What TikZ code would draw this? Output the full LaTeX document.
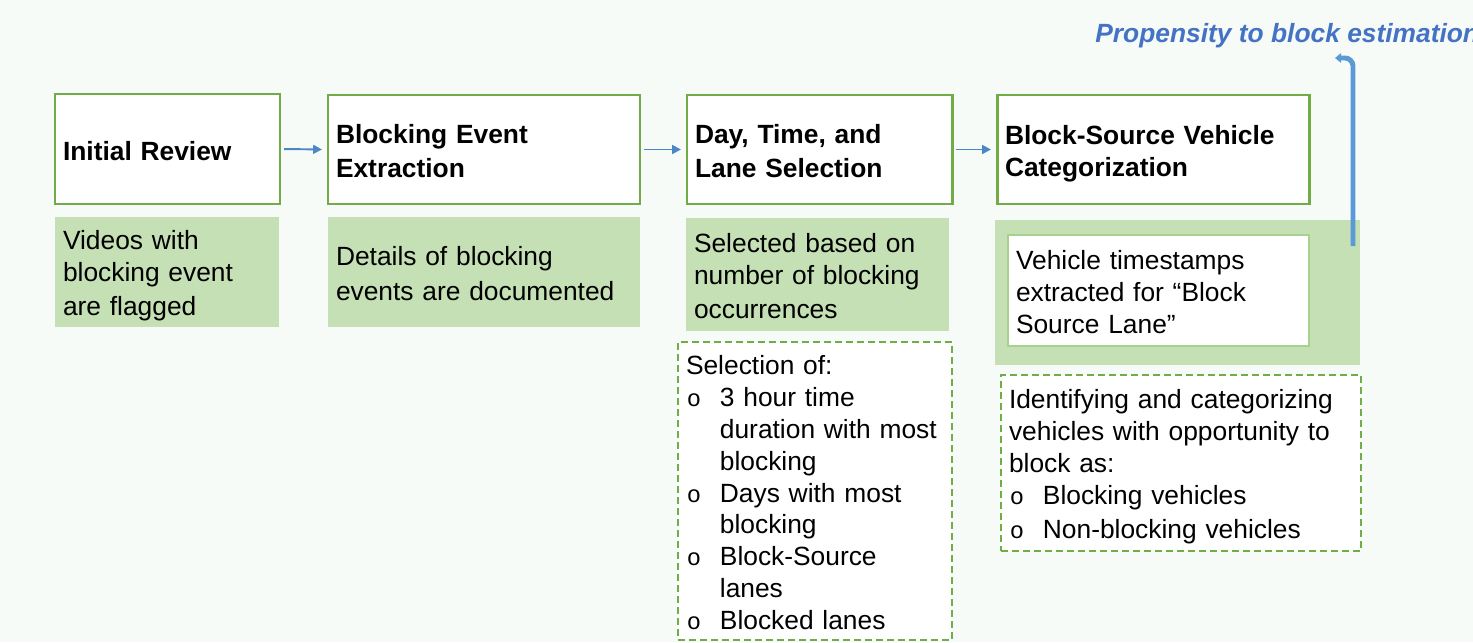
\documentclass[tikz,border=0pt]{standalone}
\usepackage{fontspec}
\setmainfont{Liberation Sans}
\newfontfamily\bulletfont{Liberation Mono}
\usetikzlibrary{arrows.meta}
\definecolor{pagebg}{HTML}{F7FBF7}
\definecolor{boxgreen}{HTML}{70AD47}
\definecolor{lightgreen}{HTML}{C5E0B4}
\definecolor{paleedge}{HTML}{A9D18E}
\definecolor{flowblue}{HTML}{4A86C8}
\definecolor{loopblue}{HTML}{5B9BD5}
\definecolor{labelblue}{HTML}{4472C4}
\newcommand{\lnstrut}{\rule[-2.8pt]{0pt}{18.15pt}}
\newcommand{\bul}[1]{\makebox[19.3pt][l]{\hspace{0.5pt}{\fontsize{13.5}{12}\bulletfont o}}#1}
\newcommand{\cont}[1]{\hspace*{19.3pt}#1}

\begin{document}
\begin{tikzpicture}[
  box/.style={font=\fontsize{15}{18.15}\selectfont, align=left, anchor=north west,
    inner xsep=0.16cm, inner ysep=0pt, outer sep=0pt,
    execute at begin node={\lnstrut}, execute at end node={\lnstrut}},
  stage/.style={box, draw=boxgreen, line width=1.7pt, fill=white,
    font=\fontsize{15}{18.15}\selectfont\bfseries},
  note/.style={box, fill=lightgreen},
  stampbox/.style={box, draw=paleedge, line width=0.8pt, fill=white},
  detail/.style={box, draw=boxgreen, line width=1.1pt, fill=white,
    dash pattern=on 0.14cm off 0.08cm},
  flow/.style={draw=flowblue, line width=1.1pt, -{Triangle[length=5pt,width=5pt]},
    shorten <=0.08cm, shorten >=0.12cm},
  feedback/.style={draw=loopblue, line width=2.8pt, rounded corners=0.16cm,
    -{Triangle[length=3.5pt,width=5.5pt]}}
]
\fill[pagebg] (0,0) rectangle (29.46,-12.84);
\useasboundingbox (0,0) rectangle (29.46,-12.84);

\node[anchor=west, inner sep=0pt, text=labelblue,
  font=\fontsize{15}{18.15}\selectfont\bfseries\itshape] (propensity) at (21.90,-0.72)
  {Propensity to block estimation};

\node[stage, minimum width=4.50cm, text width=4.18cm, minimum height=2.20cm] (review) at (1.10,-1.88) {Initial Review};
\node[stage, minimum width=6.24cm, text width=5.92cm, minimum height=2.18cm] (extract) at (6.56,-1.90) {Blocking Event\\Extraction};
\node[stage, minimum width=5.30cm, text width=4.98cm, minimum height=2.18cm] (select) at (13.74,-1.90) {Day, Time, and\\Lane Selection};
\node[stage, minimum width=6.24cm, text width=5.92cm, minimum height=2.18cm] (categ) at (19.94,-1.90) {Block-Source Vehicle\\Categorization};

\node[note, minimum width=4.48cm, text width=4.16cm, minimum height=2.20cm] (reviewnote) at (1.10,-4.34) {Videos with\\blocking event\\are flagged};
\node[note, minimum width=6.24cm, text width=5.92cm, minimum height=2.20cm] (extractnote) at (6.56,-4.34) {Details of blocking\\events are documented};
\node[note, minimum width=5.26cm, text width=4.94cm, minimum height=2.26cm] (selectnote) at (13.72,-4.36) {Selected based on\\number of blocking\\occurrences};
\node[note, minimum width=7.30cm, text width=6.98cm, minimum height=2.90cm] (categnote) at (19.90,-4.40) {};
\node[stampbox, minimum width=6.02cm, text width=5.70cm, minimum height=2.22cm] (stamps) at (20.16,-4.70) {Vehicle timestamps\\extracted for “Block\\Source Lane”};

\node[detail, minimum width=5.48cm, text width=5.16cm, minimum height=5.96cm] (selectlist) at (13.56,-6.84)
  {Selection of:\\\bul{3 hour time}\\\cont{duration with most}\\\cont{blocking}\\\bul{Days with most}\\\cont{blocking}\\\bul{Block-Source}\\\cont{lanes}\\\bul{Blocked lanes}};
\node[detail, minimum width=7.20cm, text width=6.88cm, minimum height=3.52cm] (categlist) at (20.02,-7.50)
  {Identifying and categorizing\\vehicles with opportunity to\\block as:\\\bul{Blocking vehicles}\\\bul{Non-blocking vehicles}};

\draw[flow] (review.east) -- (extract.west);
\draw[flow] (extract.east) -- (select.west);
\draw[flow] (select.east) -- (categ.west);

\coordinate (loopfoot) at (27.06,-4.92);
\coordinate (looptip) at (26.70,-1.16);
\draw[feedback] (loopfoot) |- (looptip);
\end{tikzpicture}
\end{document}
